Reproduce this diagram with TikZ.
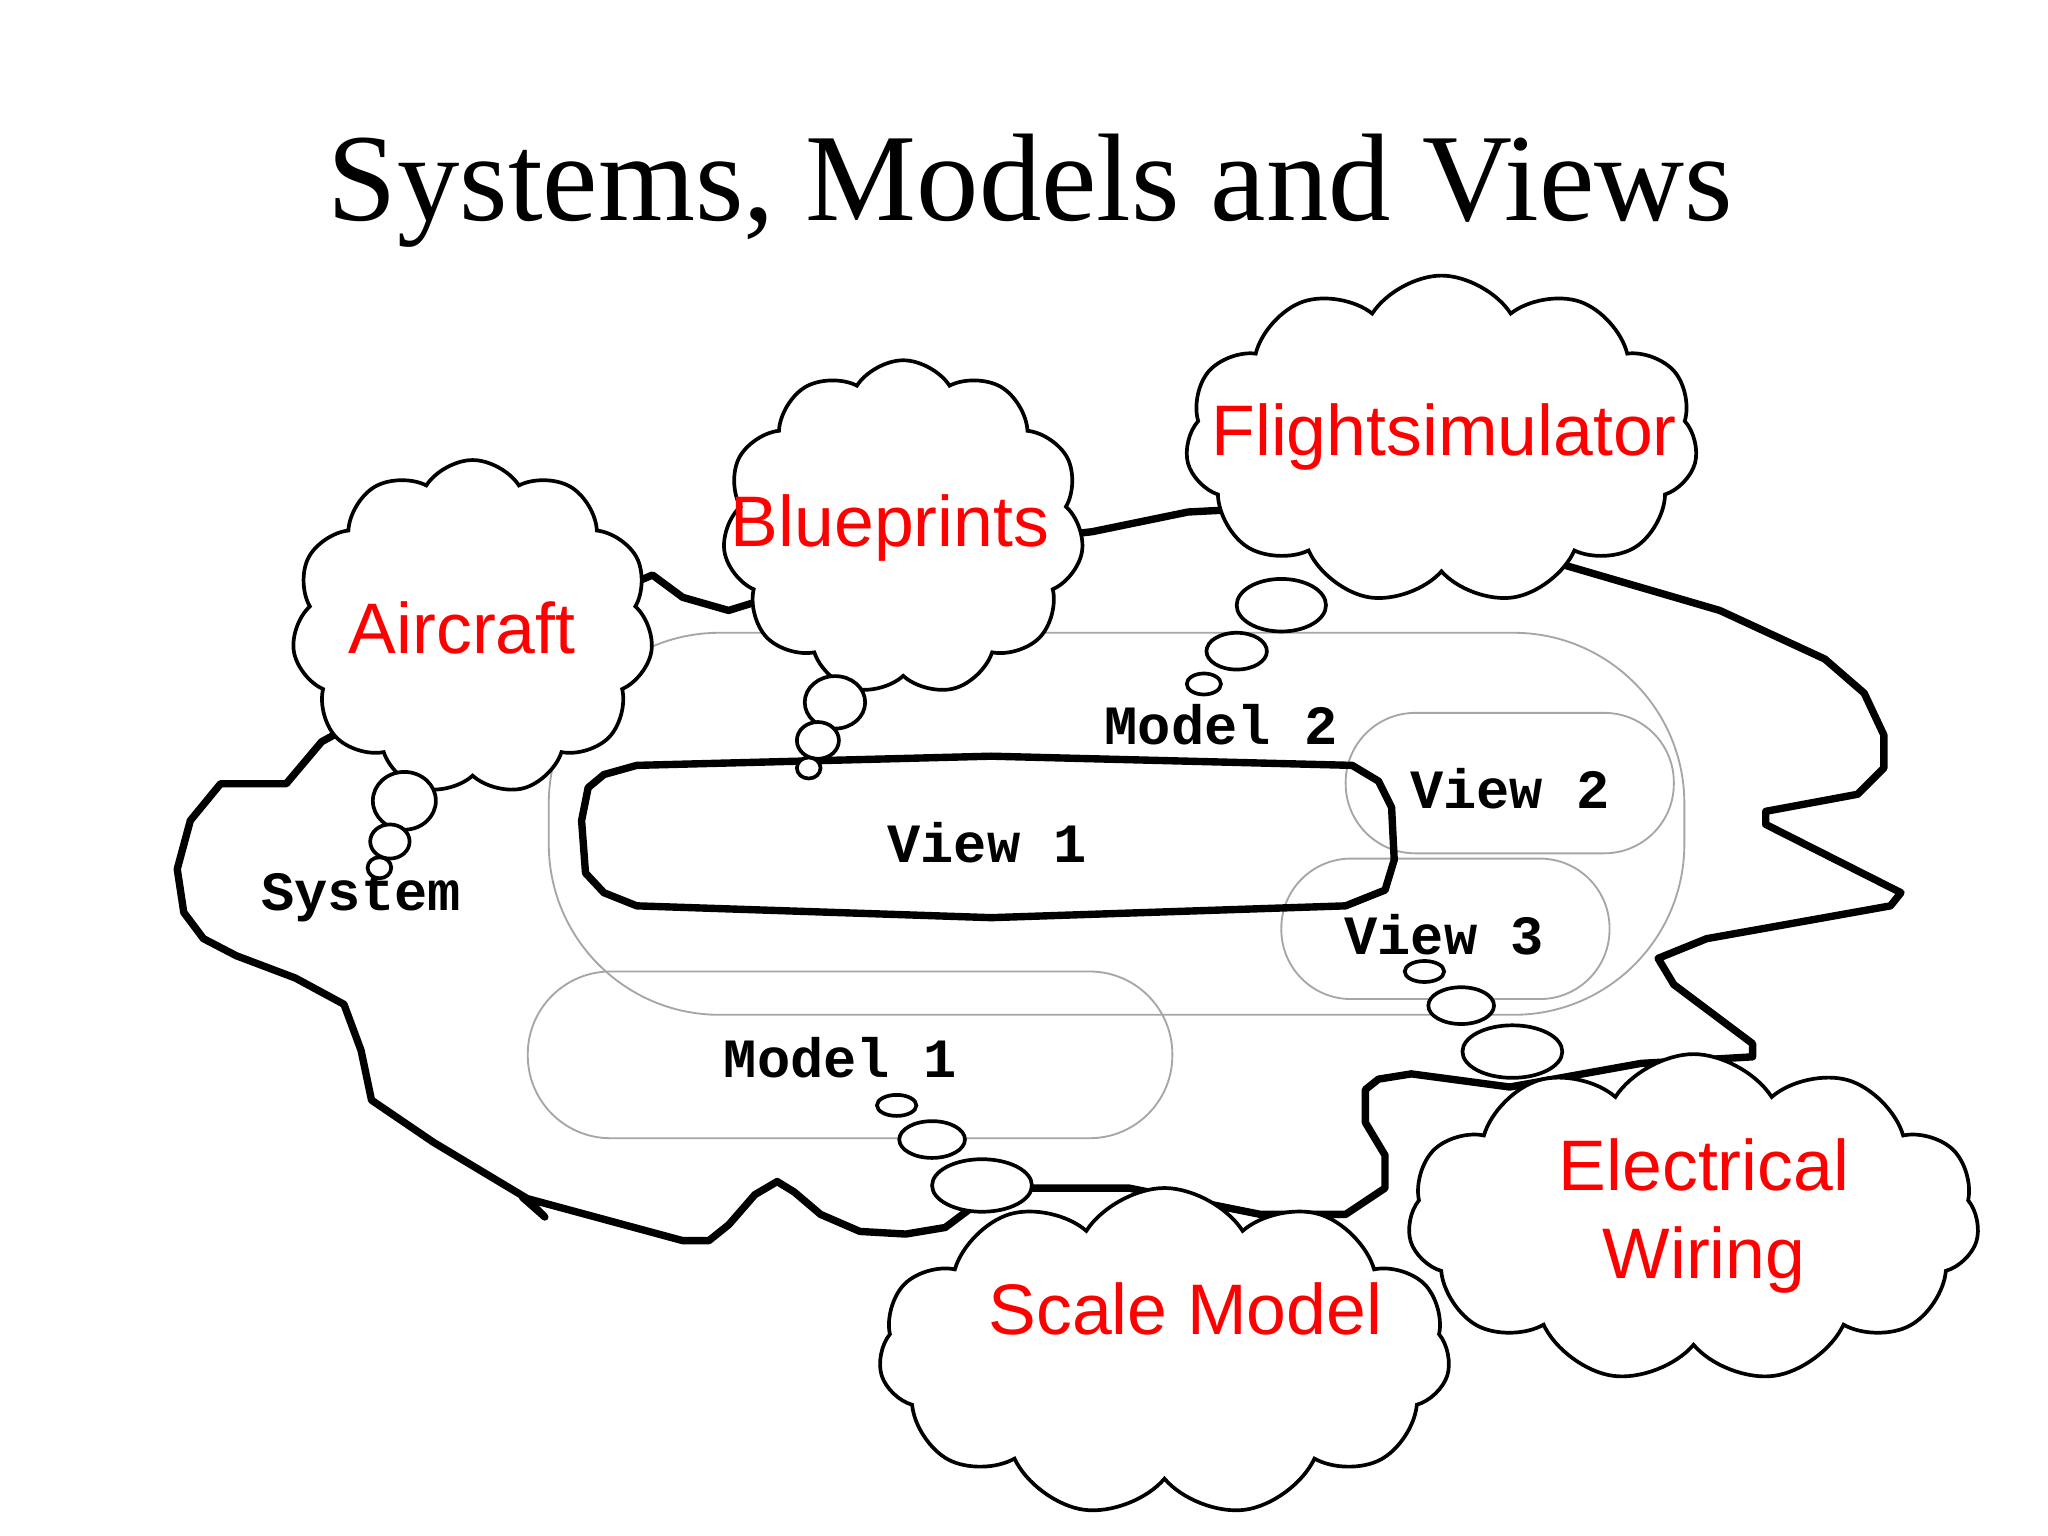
\documentclass[tikz,border=0pt]{standalone}
\usepackage{fontspec}
\setmainfont{Liberation Serif}
\newfontfamily\sansf{Liberation Sans}
\newfontfamily\monof{Liberation Mono}
\usetikzlibrary{shapes.symbols,shapes.geometric}
\begin{document}
\begin{tikzpicture}[x=0.01cm,y=-0.01cm,
  cl/.style={cloud, cloud puffs=11, cloud puff arc=115, draw, thick, fill=white, inner sep=0pt},
  ct/.style={text=red, font=\sansf\fontsize{15.5}{19}\selectfont, align=center},
  bub/.style={ellipse, draw, thick, fill=white, inner sep=0pt},
  mdl/.style={draw=gray!70, thin},
  lab/.style={font=\monof\bfseries\fontsize{12}{14}\selectfont}]
\useasboundingbox (0,0) rectangle (1560,1170);
\fill[white] (0,0) rectangle (1560,1170);
\node (title) at (785,145) {\fontsize{27}{32}\selectfont Systems, Models and Views};
% system outline
\draw[line width=1.6pt, line join=round] (245,565) -- (218,597) -- (168,597) -- (145,625) -- (135,662) -- (140,695) -- (155,715) -- (180,728) -- (225,745) -- (262,765) -- (275,800) -- (283,838) -- (330,870) -- (400,912) -- (415,927) -- (398,912) -- (520,945) -- (540,945) -- (555,933) -- (575,910) -- (592,900) -- (605,908) -- (625,925) -- (655,938) -- (690,940) -- (720,935) -- (760,905) -- (860,905) -- (960,925) -- (1025,925) -- (1055,905) -- (1055,880) -- (1040,855) -- (1040,830) -- (1050,822) -- (1075,818) -- (1150,828) -- (1250,810) -- (1335,805) -- (1335,795) -- (1275,750) -- (1263,730) -- (1300,715) -- (1440,690) -- (1448,680) -- (1345,628) -- (1345,618) -- (1415,605) -- (1435,585) -- (1435,560) -- (1420,528) -- (1390,502) -- (1310,465) -- (1190,430) -- (1100,380) -- (905,390) -- (832,405) -- (700,420) -- (555,465) -- (520,455) -- (497,438) -- (400,480) -- cycle;
% models and views
\draw[mdl, rounded corners=1.3cm] (418,482) rectangle (1283,773);
\draw[mdl, rounded corners=0.63cm] (402,740) rectangle (893,867);
\draw[mdl, rounded corners=0.53cm] (1025,543) rectangle (1275,650);
\draw[mdl, rounded corners=0.53cm] (976,654) rectangle (1226,761);
\draw[line width=1.6pt, line join=round] (460,590) -- (485,583) -- (755,576) -- (1030,583) -- (1050,595) -- (1060,615) -- (1062,655) -- (1055,678) -- (1025,690) -- (755,699) -- (485,690) -- (460,680) -- (446,665) -- (443,625) -- (448,600) -- cycle;
\node[lab] (m2) at (930,552) {Model 2};
\node[lab] (v2) at (1150,601) {View 2};
\node[lab] (v1) at (752,642) {View 1};
\node[lab] (v3) at (1100,712) {View 3};
\node[lab] (m1) at (640,806) {Model 1};
\node[lab] (sys) at (275,684) {System};
% clouds
\node[cl, minimum width=2.75cm, minimum height=2.55cm, aspect=1.07] (air) at (360,478) {};
\node[cl, minimum width=2.75cm, minimum height=2.55cm, aspect=1.07] (blue) at (688,402) {};
\node[cl, minimum width=3.9cm, minimum height=2.5cm, aspect=1.55] (fs) at (1098,335) {};
\node[cl, minimum width=4.35cm, minimum height=2.5cm, aspect=1.7] (sm) at (887,1030) {};
\node[cl, minimum width=4.35cm, minimum height=2.5cm, aspect=1.7] (ew) at (1290,928) {};
\node[ct] (airt) at (352,478) {Aircraft};
\node[ct] (bluet) at (678,402) {Blueprints};
\node[ct] (fst) at (1100,333) {Flightsimulator};
\node[ct] (smt) at (903,997) {Scale Model};
\node[ct] (ewt) at (1298,926) {Electrical\\Wiring};
% bubbles
\node[bub, minimum width=0.48cm, minimum height=0.44cm] (a1) at (308,610) {};
\node[bub, minimum width=0.3cm, minimum height=0.26cm] (a2) at (297,641) {};
\node[bub, minimum width=0.18cm, minimum height=0.16cm] (a3) at (289,661) {};
\node[bub, minimum width=0.46cm, minimum height=0.4cm] (b1) at (636,535) {};
\node[bub, minimum width=0.32cm, minimum height=0.28cm] (b2) at (623,564) {};
\node[bub, minimum width=0.18cm, minimum height=0.16cm] (b3) at (616,585) {};
\node[bub, minimum width=0.68cm, minimum height=0.4cm] (f1) at (976,461) {};
\node[bub, minimum width=0.46cm, minimum height=0.28cm] (f2) at (942,496) {};
\node[bub, minimum width=0.26cm, minimum height=0.16cm] (f3) at (917,521) {};
\node[bub, minimum width=0.76cm, minimum height=0.4cm] (s1) at (748,903) {};
\node[bub, minimum width=0.5cm, minimum height=0.28cm] (s2) at (710,868) {};
\node[bub, minimum width=0.3cm, minimum height=0.16cm] (s3) at (683,842) {};
\node[bub, minimum width=0.76cm, minimum height=0.4cm] (e1) at (1152,801) {};
\node[bub, minimum width=0.5cm, minimum height=0.28cm] (e2) at (1113,766) {};
\node[bub, minimum width=0.3cm, minimum height=0.16cm] (e3) at (1085,740) {};
\end{tikzpicture}
\end{document}
